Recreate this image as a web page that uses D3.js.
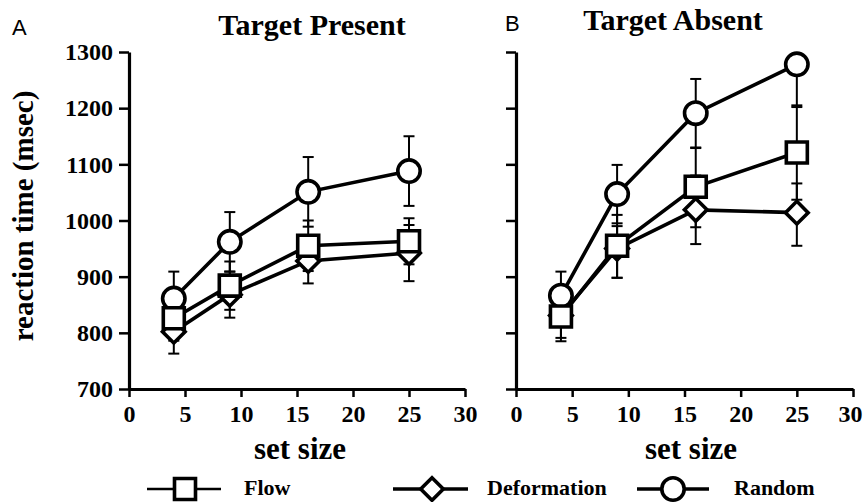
<!DOCTYPE html>
<html>
<head>
<meta charset="utf-8">
<script src="https://cdn.jsdelivr.net/npm/d3@7"></script>
<style>
  body { margin: 0; background: #fff; }
  svg { display: block; }
  .serif { font-family: "Liberation Serif", "Times New Roman", serif; font-weight: bold; }
</style>
</head>
<body>
<script>
// ---- data ----
const setSizes = [4, 9, 16, 25];
const xTickValues = [0, 5, 10, 15, 20, 25, 30];
const yTickValues = [700, 800, 900, 1000, 1100, 1200, 1300];
const seriesNames = ["Flow", "Deformation", "Random"];

// Target Present (means, upper error, lower error)
const flowPresent = [826, 884, 955, 963];
const flowPresentErrUp = [40, 43, 45, 41];
const flowPresentErrDown = [40, 43, 45, 41];
const deformPresent = [802, 868, 928, 942];
const deformPresentErrUp = [39, 41, 40, 50];
const deformPresentErrDown = [39, 41, 40, 50];
const randomPresent = [861, 962, 1051, 1088];
const randomPresentErrUp = [48, 53, 62, 62];
const randomPresentErrDown = [48, 53, 62, 62];

// Target Absent
const flowAbsent = [829, 955, 1060, 1121];
const flowAbsentErrUp = [44, 55, 70, 84];
const flowAbsentErrDown = [44, 57, 72, 84];
const deformAbsent = [831, 950, 1019, 1014];
const deformAbsentErrUp = [40, 40, 61, 52];
const deformAbsentErrDown = [40, 52, 61, 59];
const randomAbsent = [866, 1047, 1191, 1278];
const randomAbsentErrUp = [43, 52, 61, 0];
const randomAbsentErrDown = [43, 52, 62, 76];

// ---- drawing ----
const W = 864, H = 502;
const SERIF = '"Liberation Serif", "Times New Roman", serif';
const svg = d3.select("body").append("svg").attr("width", W).attr("height", H);

const y = d3.scaleLinear().domain([700, 1300]).range([389, 52]);
const xLeft = d3.scaleLinear().domain([0, 30]).range([129, 465]);
const xRight = d3.scaleLinear().domain([0, 30]).range([516, 853]);

const MARK_SW = 3.6, LINE_SW = 3.6;

function marker(g, type, cx, cy) {
  if (type === "square") {
    g.append("path")
      .attr("d", d3.symbol(d3.symbolSquare, 441)())
      .attr("transform", `translate(${cx},${cy})`)
      .attr("fill", "#fff").attr("stroke", "#000").attr("stroke-width", MARK_SW);
  } else if (type === "diamond") {
    g.append("path")
      .attr("d", d3.symbol(d3.symbolSquare, 256)())
      .attr("transform", `translate(${cx},${cy}) rotate(45)`)
      .attr("fill", "#fff").attr("stroke", "#000").attr("stroke-width", MARK_SW);
  } else {
    g.append("circle").attr("cx", cx).attr("cy", cy).attr("r", 11.2)
      .attr("fill", "#fff").attr("stroke", "#000").attr("stroke-width", MARK_SW);
  }
}

function panel(x, series, showYLabels, lastShift) {
  const g = svg.append("g");
  const ya = d3.axisLeft(y).tickValues(yTickValues).tickSize(10).tickSizeOuter(0).tickPadding(6)
    .tickFormat(showYLabels ? d3.format("d") : () => "");
  const yg = g.append("g").attr("transform", `translate(${x.range()[0]},0)`).call(ya);
  const xa = d3.axisBottom(x).tickValues(xTickValues).tickSize(8).tickSizeOuter(0).tickPadding(8);
  const xg = g.append("g").attr("transform", `translate(0,${y.range()[0]})`).call(xa);
  [yg, xg].forEach(a => {
    a.attr("font-family", SERIF).attr("font-size", 24).attr("font-weight", "bold");
    a.select(".domain").attr("stroke-width", 3.2).attr("stroke", "#000");
    a.selectAll(".tick line").attr("stroke-width", 2.5).attr("stroke", "#000");
    a.selectAll(".tick text")
      .style("font-family", SERIF).style("font-weight", "bold").style("font-size", "24px")
      .attr("fill", "#000");
  });
  if (lastShift) {
    xg.selectAll(".tick text").filter(d => d === 30).attr("dx", lastShift);
  }

  const eg = g.append("g").attr("stroke", "#000").attr("stroke-width", 2).attr("fill", "none");
  series.forEach(s => {
    setSizes.forEach((ss, i) => {
      const cx = x(ss), cy = y(s.vals[i]);
      const top = y(s.vals[i] + s.up[i]), bot = y(s.vals[i] - s.down[i]);
      if (s.up[i] > 0) {
        eg.append("line").attr("x1", cx).attr("x2", cx).attr("y1", top).attr("y2", cy);
        eg.append("line").attr("x1", cx - 5.5).attr("x2", cx + 5.5).attr("y1", top).attr("y2", top);
      }
      if (s.down[i] > 0) {
        eg.append("line").attr("x1", cx).attr("x2", cx).attr("y1", cy).attr("y2", bot);
        eg.append("line").attr("x1", cx - 5.5).attr("x2", cx + 5.5).attr("y1", bot).attr("y2", bot);
      }
    });
  });
  const line = d3.line().x(d => x(d[0])).y(d => y(d[1]));
  series.forEach(s => {
    g.append("path").attr("d", line(setSizes.map((ss, i) => [ss, s.vals[i]])))
      .attr("fill", "none").attr("stroke", "#000").attr("stroke-width", LINE_SW);
  });
  series.forEach(s => {
    setSizes.forEach((ss, i) => marker(g, s.type, x(ss), y(s.vals[i])));
  });
}

panel(xLeft, [
  { type: "diamond", vals: deformPresent, up: deformPresentErrUp, down: deformPresentErrDown },
  { type: "circle", vals: randomPresent, up: randomPresentErrUp, down: randomPresentErrDown },
  { type: "square", vals: flowPresent, up: flowPresentErrUp, down: flowPresentErrDown }
], true, 0);
panel(xRight, [
  { type: "diamond", vals: deformAbsent, up: deformAbsentErrUp, down: deformAbsentErrDown },
  { type: "circle", vals: randomAbsent, up: randomAbsentErrUp, down: randomAbsentErrDown },
  { type: "square", vals: flowAbsent, up: flowAbsentErrUp, down: flowAbsentErrDown }
], false, -3);

// titles and letters
svg.append("text").attr("class", "serif").attr("x", 312).attr("y", 35)
  .attr("text-anchor", "middle").attr("font-size", 30).text("Target Present");
svg.append("text").attr("class", "serif").attr("x", 673).attr("y", 30)
  .attr("text-anchor", "middle").attr("font-size", 30).text("Target Absent");
svg.append("text").attr("x", 12).attr("y", 35).attr("font-family", "Liberation Sans, Arial, sans-serif")
  .attr("font-size", 22).text("A");
svg.append("text").attr("x", 505).attr("y", 31).attr("font-family", "Liberation Sans, Arial, sans-serif")
  .attr("font-size", 22).text("B");

// axis labels
svg.append("text").attr("class", "serif").attr("font-size", 29).attr("text-anchor", "middle")
  .attr("transform", "translate(33,216) rotate(-90)").text("reaction time (msec)");
svg.append("text").attr("class", "serif").attr("font-size", 31).attr("text-anchor", "middle")
  .attr("x", 300).attr("y", 459).text("set size");
svg.append("text").attr("class", "serif").attr("font-size", 31).attr("text-anchor", "middle")
  .attr("x", 691).attr("y", 459).text("set size");

// legend
const legendY = 489;
const legendItems = [
  { type: "square", cx: 185, x1: 147, x2: 221, tx: 244, label: seriesNames[0] },
  { type: "diamond", cx: 432, x1: 393, x2: 468, tx: 487, label: seriesNames[1] },
  { type: "circle", cx: 673, x1: 637, x2: 709, tx: 734, label: seriesNames[2] }
];
const lg = svg.append("g");
legendItems.forEach(it => {
  lg.append("line").attr("x1", it.x1).attr("x2", it.x2).attr("y1", legendY).attr("y2", legendY)
    .attr("stroke", "#000").attr("stroke-width", it.type === "square" ? 2.6 : 3.6);
  marker(lg, it.type, it.cx, legendY);
  lg.append("text").attr("class", "serif").attr("font-size", 22).attr("x", it.tx).attr("y", legendY + 6)
    .text(it.label);
});
</script>
</body>
</html>
